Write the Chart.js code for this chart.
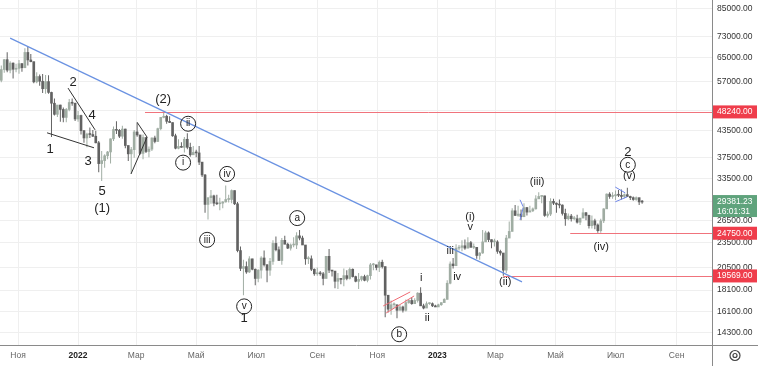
<!DOCTYPE html>
<html lang="ru">

<head>
    <meta charset="UTF-8">
    <title>BTC</title>
    <script src="https://cdn.jsdelivr.net/npm/chart.js"></script>
    <style>
        html, body { margin: 0; padding: 0; background: #fff; }
    </style>
</head>

<body>
    <canvas id="Grafico" width="758" height="366"></canvas>

<script>
// dias contados a partir de 1 nov 2021, uma vela = 3 dias
const primeiroDia = -18;
const passo = 3;
const aberturaInicial = 57.4;

// preços em milhares
const fechamentos = [
    60.9, 64.3, 60.7, 63.1, 61.0, 61.3,
    62.9, 61.5, 66.9, 64.2, 63.6, 56.9, 58.6, 57.1, 54.8, 57.0,
    53.7, 50.6, 47.6, 50.1, 48.9, 46.8, 48.9, 50.8, 50.6, 46.4, 47.3,
    43.5, 41.8, 42.7, 42.6, 42.2, 40.7, 36.3, 36.9, 37.9, 38.7,
    41.6, 43.8, 43.6, 42.2, 43.9, 40.1, 38.3, 39.2, 43.2,
    42.5, 38.4, 41.9, 38.8, 39.3, 41.8, 41.0, 44.0, 46.8, 47.1, 45.8,
    45.5, 42.3, 39.5, 39.9, 39.7, 41.5, 39.7, 38.1, 38.6, 38.5,
    36.6, 34.1, 29.0, 30.1, 30.4, 29.2, 29.1, 29.2, 29.4, 29.8,
    29.8, 31.3, 29.1, 22.5, 20.4, 20.6, 20.0, 21.5, 20.3, 19.3,
    20.2, 21.6, 20.8, 20.2, 21.2, 23.4, 22.6, 21.3, 23.8, 23.3,
    22.8, 23.2, 23.2, 24.4, 24.1, 23.2, 21.5, 21.5, 20.3, 19.8, 19.9,
    19.8, 19.3, 21.8, 20.2, 20.1, 19.0, 19.3, 19.2, 19.6, 19.3,
    20.3, 19.5, 19.0, 19.2, 19.5, 19.1, 19.6, 20.8, 20.8, 20.5,
    21.1, 20.6, 17.6, 16.3, 16.7, 16.7, 16.2, 16.5, 16.2, 16.9,
    17.1, 16.8, 17.1, 17.8, 16.6, 16.4, 16.8, 16.8, 16.6, 16.5,
    16.7, 16.9, 17.2, 18.8, 20.9, 20.7, 22.8, 22.9, 23.1, 22.8, 23.5,
    22.9, 22.9, 21.9, 22.2, 23.6, 24.8, 23.9, 23.6, 23.6,
    22.4, 22.2, 20.2, 24.1, 25.0, 28.0, 27.3, 27.5, 27.1, 28.5,
    27.8, 28.0, 28.3, 29.9, 30.3, 30.4, 27.3, 27.5, 29.5, 29.2,
    29.0, 28.9, 27.6, 26.8, 27.2, 26.8, 26.8, 26.3, 26.9, 27.7, 27.3,
    25.8, 26.5, 25.9, 25.1, 26.5, 28.3, 30.7, 30.3, 30.4, 30.6,
    30.5, 30.3, 30.6, 30.3, 30.1, 29.8, 30.1, 29.4, 29.38
];
const maximas = [
    62.3, 64.5, 67.0, 63.7, 63.3, 62.9,
    64.2, 63.1, 68.5, 69.0, 66.3, 63.6, 60.0, 59.3, 59.4, 59.1,
    59.0, 53.9, 51.9, 50.1, 50.2, 49.4, 49.3, 51.8, 51.9, 50.7, 48.5,
    47.5, 43.7, 43.0, 44.3, 43.7, 43.5, 41.1, 38.9, 38.2, 38.9,
    41.7, 44.5, 45.8, 43.9, 44.7, 44.0, 40.1, 39.8, 43.7,
    45.4, 42.5, 42.6, 41.9, 39.9, 41.9, 42.3, 44.2, 46.9, 48.2, 47.5,
    47.1, 45.5, 42.8, 41.5, 40.8, 42.0, 42.9, 40.7, 40.0, 39.2,
    40.0, 36.6, 34.3, 30.1, 31.4, 30.6, 30.6, 30.1, 29.5, 32.2,
    30.6, 31.5, 31.3, 29.4, 23.0, 21.4, 21.2, 21.8, 21.5, 20.4,
    20.3, 21.8, 22.5, 20.9, 21.6, 23.8, 24.3, 23.0, 24.1, 24.4,
    23.5, 23.4, 24.2, 24.9, 25.2, 24.4, 23.2, 21.8, 21.9, 20.4, 20.5,
    20.1, 20.0, 21.8, 22.7, 20.2, 20.1, 19.9, 19.3, 20.4, 20.2,
    20.5, 20.4, 19.6, 19.9, 19.6, 19.7, 19.7, 21.0, 21.0, 20.8,
    21.3, 21.4, 20.6, 17.6, 17.1, 16.9, 16.7, 16.7, 16.6, 17.2,
    17.2, 17.4, 17.3, 17.9, 18.4, 16.8, 17.0, 16.9, 16.9, 16.7,
    16.8, 16.9, 17.3, 19.1, 21.2, 21.6, 23.3, 23.2, 23.8, 23.9, 24.2,
    23.7, 23.4, 22.9, 22.3, 25.2, 25.1, 25.0, 23.9, 24.0,
    23.8, 22.6, 22.2, 24.5, 26.4, 28.4, 28.9, 28.8, 28.2, 29.2,
    28.6, 28.8, 28.5, 30.5, 31.0, 30.5, 30.4, 27.9, 30.0, 29.9,
    29.3, 29.8, 29.0, 28.3, 27.6, 27.5, 27.2, 27.4, 26.9, 28.4, 27.8,
    27.4, 27.3, 26.8, 26.1, 26.8, 28.4, 30.8, 31.0, 31.0, 31.3,
    31.4, 31.5, 30.8, 31.8, 30.4, 30.3, 30.3, 29.6, 29.7
];
const minimas = [
    56.8, 59.8, 60.0, 59.7, 58.0, 60.0,
    59.5, 60.2, 61.4, 62.3, 63.4, 56.5, 56.5, 55.7, 53.5, 53.3,
    53.3, 42.0, 47.3, 46.9, 45.7, 45.6, 45.6, 48.4, 49.9, 45.9, 45.7,
    42.6, 40.7, 39.7, 41.8, 42.0, 40.6, 34.6, 33.0, 35.5, 37.2,
    36.3, 41.1, 42.7, 41.8, 41.6, 39.5, 36.8, 34.3, 37.5,
    42.1, 38.1, 37.2, 38.5, 37.6, 38.9, 40.6, 40.9, 43.6, 46.6, 45.2,
    45.4, 42.1, 39.3, 39.3, 39.6, 38.6, 39.3, 37.7, 38.2, 37.6,
    36.0, 33.7, 27.7, 26.7, 29.1, 28.7, 28.9, 28.1, 28.4, 29.3,
    29.3, 29.2, 28.9, 22.3, 20.1, 17.6, 19.8, 19.9, 20.2, 18.6,
    18.9, 19.3, 20.6, 18.9, 19.6, 20.8, 22.4, 21.3, 20.8, 23.3,
    22.7, 22.5, 22.9, 22.7, 23.8, 23.2, 20.8, 20.9, 20.1, 19.6, 19.6,
    19.6, 18.6, 19.3, 19.9, 19.5, 18.3, 18.2, 18.7, 18.5, 19.1,
    19.2, 19.4, 18.9, 18.2, 19.0, 19.0, 18.9, 19.2, 20.2, 20.2,
    20.0, 20.4, 15.6, 16.0, 15.8, 16.4, 15.5, 16.2, 16.0, 16.1,
    16.8, 16.7, 16.8, 16.9, 16.6, 16.3, 16.4, 16.7, 16.5, 16.5,
    16.5, 16.6, 16.9, 17.2, 18.7, 20.4, 20.7, 22.5, 22.4, 22.6, 22.8,
    22.9, 22.7, 21.5, 21.4, 22.1, 24.0, 23.6, 22.8, 23.0,
    22.1, 21.9, 19.6, 19.9, 24.1, 25.0, 27.2, 27.1, 26.6, 27.5,
    27.3, 27.8, 27.8, 28.2, 29.9, 29.2, 27.1, 27.0, 27.2, 28.9,
    27.7, 28.4, 27.3, 25.8, 26.6, 26.4, 26.6, 26.1, 25.9, 26.9, 26.6,
    25.4, 25.4, 25.3, 24.8, 24.8, 26.2, 28.3, 29.9, 29.9, 29.7,
    30.2, 29.8, 30.0, 30.2, 29.7, 29.6, 29.6, 28.9, 29.1
];

// eixo do tempo
const mesesDias = [0, 61, 120, 181, 242, 304, 365, 426, 485, 546, 607, 669];
const mesesTexto = ['Ноя', '2022', 'Мар', 'Май', 'Июл', 'Сен', 'Ноя', '2023', 'Мар', 'Май', 'Июл', 'Сен'];

// eixo de preço
const precosEixo = [85000, 73000, 65000, 57000, 48500, 43500, 37500, 33500, 29500, 26500, 23500, 20500, 18100, 16100, 14300];

// níveis horizontais (vermelhos)
const niveis = [48240, 24750, 19569];
const niveisInicio = [129, 561, 493];
const precoAtual = 29381.23;
const tempoVela = '16:01:31';

// linha de tendência azul
const tendencia = [[-8, 72400], [512, 18940]];

// pequenas figuras [dia1, preço1, dia2, preço2]
const linhasPretas = [
    [29.5, 43000, 77.2, 39600],
    [50.8, 55000, 78.3, 43700],
    [114.8, 34300, 131.1, 42000],
    [120.9, 45600, 131.1, 42000]
];
const linhasVermelhas = [
    [374, 15960, 402.4, 17530],
    [371, 16590, 398.4, 17920]
];
const linhasAzuis = [
    [510, 29750, 513.2, 28630],
    [510, 26650, 513.2, 28470],
    [606.7, 31910, 616.9, 30900],
    [606.7, 29420, 618.9, 30240]
];

// marcações de ondas
const ondasTexto = ['2', '4', '1', '3', '5', '(1)', '(2)', 'ii', 'i', 'iv', 'iii', 'v', '1', 'a', 'b',
    'i', 'ii', 'iii', 'iv', '(i)', 'v', '(ii)', '(iii)', '(iv)', '(v)', 'c', '2'];
const ondasDia = [55.9, 75.2, 32.5, 71.1, 85.4, 85.4, 147.4, 172.8, 167.7, 212.4, 192.1, 229.7, 229.7, 283.6, 387.2,
    409.5, 415.7, 439.1, 446.1, 459.3, 459.3, 494.9, 527.4, 592.5, 621, 619.5, 619.5];
const ondasPreco = [56600, 47200, 39200, 36700, 31100, 28300, 51800, 45200, 36500, 34300, 23870, 16550, 15450, 26900, 14200,
    19360, 15560, 22500, 19470, 27100, 25600, 18900, 32800, 22960, 33940, 36070, 38550];
const ondasCirculo = [0, 0, 0, 0, 0, 0, 0, 1, 1, 1, 1, 1, 0, 1, 1, 0, 0, 0, 0, 0, 0, 0, 0, 0, 0, 1, 0];

const corAlta = '#a0ada3';
const corBaixa = '#626262';

// monta as velas
var velas = fechamentos.map(function (c, i) {
    var o = i === 0 ? aberturaInicial : fechamentos[i - 1];
    return {
        x: primeiroDia + i * passo + 1,
        o: o * 1000,
        c: c * 1000,
        h: Math.max(maximas[i], o, c) * 1000,
        l: Math.min(minimas[i], o, c) * 1000
    };
});
var pavios = velas.map(v => ({ x: v.x, y: [v.l, v.h] }));
var corpos = velas.map(v => ({ x: v.x, y: [Math.min(v.o, v.c), Math.max(v.o, v.c)] }));
var cores = velas.map(v => v.c >= v.o ? corAlta : corBaixa);

function linha(ctx, x1, y1, x2, y2, cor, largura) {
    ctx.strokeStyle = cor;
    ctx.lineWidth = largura || 1;
    ctx.beginPath();
    ctx.moveTo(x1, y1);
    ctx.lineTo(x2, y2);
    ctx.stroke();
}

// tira o espaço extra que o Chart.js reserva para os rótulos
function semPadding(s) {
    s.paddingLeft = 0;
    s.paddingRight = 0;
    s.paddingTop = 0;
    s.paddingBottom = 0;
}

const anotacoes = {
    id: 'anotacoes',
    afterDatasetsDraw(chart) {
        const ctx = chart.ctx, xs = chart.scales.x, ys = chart.scales.y, area = chart.chartArea;
        ctx.save();
        ctx.beginPath();
        ctx.rect(area.left, area.top, area.right - area.left, area.bottom - area.top);
        ctx.clip();

        // níveis
        niveis.forEach(function (p, i) {
            var y = Math.round(ys.getPixelForValue(p)) + 0.5;
            linha(ctx, xs.getPixelForValue(niveisInicio[i]), y, area.right, y, '#f0737c');
        });

        // tendência
        linha(ctx, xs.getPixelForValue(tendencia[0][0]), ys.getPixelForValue(tendencia[0][1]),
            xs.getPixelForValue(tendencia[1][0]), ys.getPixelForValue(tendencia[1][1]), '#6a92e2', 1.2);

        [[linhasPretas, '#333333'], [linhasVermelhas, '#ef6b74'], [linhasAzuis, '#6f86e8']].forEach(function (grupo) {
            grupo[0].forEach(function (s) {
                linha(ctx, xs.getPixelForValue(s[0]), ys.getPixelForValue(s[1]),
                    xs.getPixelForValue(s[2]), ys.getPixelForValue(s[3]), grupo[1]);
            });
        });

        // ondas
        ctx.textAlign = 'center';
        ctx.textBaseline = 'middle';
        ctx.fillStyle = '#222';
        ondasTexto.forEach(function (t, i) {
            var x = xs.getPixelForValue(ondasDia[i]);
            var y = ys.getPixelForValue(ondasPreco[i]);
            var numero = /[0-9]/.test(t);
            if (ondasCirculo[i]) {
                ctx.strokeStyle = '#222';
                ctx.lineWidth = 1;
                ctx.beginPath();
                ctx.arc(x, y, 7.5, 0, Math.PI * 2);
                ctx.stroke();
                ctx.font = '10px "Liberation Sans", Arial, sans-serif';
            } else if (numero) {
                ctx.font = '13px "Liberation Sans", Arial, sans-serif';
            } else {
                ctx.font = '11px "Liberation Sans", Arial, sans-serif';
            }
            ctx.fillText(t, x, y);
        });
        ctx.restore();
    },
    afterDraw(chart) {
        const ctx = chart.ctx, ys = chart.scales.y, area = chart.chartArea;
        ctx.save();
        // moldura do canto inferior direito
        linha(ctx, area.right, area.bottom + 0.5, chart.width, area.bottom + 0.5, '#8a8a8a');
        linha(ctx, area.right + 0.5, area.bottom, area.right + 0.5, chart.height, '#8a8a8a');

        ctx.font = '8.5px "Liberation Sans", Arial, sans-serif';
        ctx.textAlign = 'left';
        ctx.textBaseline = 'middle';
        var bx = area.right + 1, bw = chart.width - bx - 1;

        // preço atual
        var ya = ys.getPixelForValue(precoAtual);
        ctx.fillStyle = '#5fa37c';
        ctx.fillRect(bx, ya - 7, bw, 22);
        ctx.fillStyle = '#fff';
        ctx.fillText(precoAtual.toFixed(2), area.right + 5, ya);
        ctx.fillText(tempoVela, area.right + 5, ya + 10);

        niveis.forEach(function (p) {
            var y = ys.getPixelForValue(p);
            ctx.fillStyle = '#ef3d4b';
            ctx.fillRect(bx, y - 6.5, bw, 13);
            ctx.fillStyle = '#fff';
            ctx.fillText(p.toFixed(2), area.right + 5, y);
        });

        // ícone de configurações
        var cx = area.right + (chart.width - area.right) / 2, cy = area.bottom + 10.5;
        ctx.strokeStyle = '#444';
        ctx.lineWidth = 1.2;
        ctx.beginPath();
        ctx.arc(cx, cy, 5, 0, Math.PI * 2);
        ctx.stroke();
        ctx.beginPath();
        ctx.arc(cx, cy, 2, 0, Math.PI * 2);
        ctx.stroke();
        ctx.restore();
    }
};

var ctx = document.getElementById('Grafico').getContext('2d');
var meuGrafico = new Chart(ctx, {
    type: 'bar',
    data: {
        datasets: [{
            data: pavios,
            backgroundColor: cores,
            grouped: false,
            maxBarThickness: 1,
            borderWidth: 0
        }, {
            data: corpos,
            backgroundColor: cores,
            grouped: false,
            categoryPercentage: 1,
            barPercentage: 1,
            maxBarThickness: 2,
            minBarLength: 1,
            borderWidth: 0
        }]
    },
    options: {
        responsive: false,
        animation: false,
        devicePixelRatio: 1,
        layout: { padding: 0 },
        plugins: { legend: { display: false }, tooltip: { enabled: false } },
        scales: {
            x: {
                type: 'linear',
                offset: false,
                min: -18.3,
                max: 705,
                grid: { color: '#efefef', drawTicks: false, offset: false },
                border: { color: '#8a8a8a' },
                afterBuildTicks: function (s) { s.ticks = mesesDias.map(v => ({ value: v })); },
                afterFit: function (s) { s.height = 21; semPadding(s); },
                ticks: {
                    autoSkip: false,
                    maxRotation: 0,
                    padding: 6,
                    color: function (c) { return /^\d{4}$/.test(mesesTexto[c.index]) ? '#222' : '#666'; },
                    font: function (c) {
                        return {
                            family: '"Liberation Sans", Arial, sans-serif',
                            size: 8.5,
                            weight: /^\d{4}$/.test(mesesTexto[c.index]) ? 'bold' : 'normal'
                        };
                    },
                    callback: function (v, i) { return mesesTexto[i]; }
                }
            },
            y: {
                type: 'logarithmic',
                position: 'right',
                min: 13384,
                max: 89280,
                grid: { color: '#efefef', drawTicks: false },
                border: { color: '#8a8a8a' },
                afterBuildTicks: function (s) { s.ticks = precosEixo.map(v => ({ value: v })); },
                afterFit: function (s) { s.width = 46; semPadding(s); },
                ticks: {
                    autoSkip: false,
                    padding: 5,
                    color: '#333',
                    font: { family: '"Liberation Sans", Arial, sans-serif', size: 8.5 },
                    callback: function (v) { return Number(v).toFixed(2); }
                }
            }
        }
    },
    plugins: [anotacoes]
});
</script>
</body>

</html>
